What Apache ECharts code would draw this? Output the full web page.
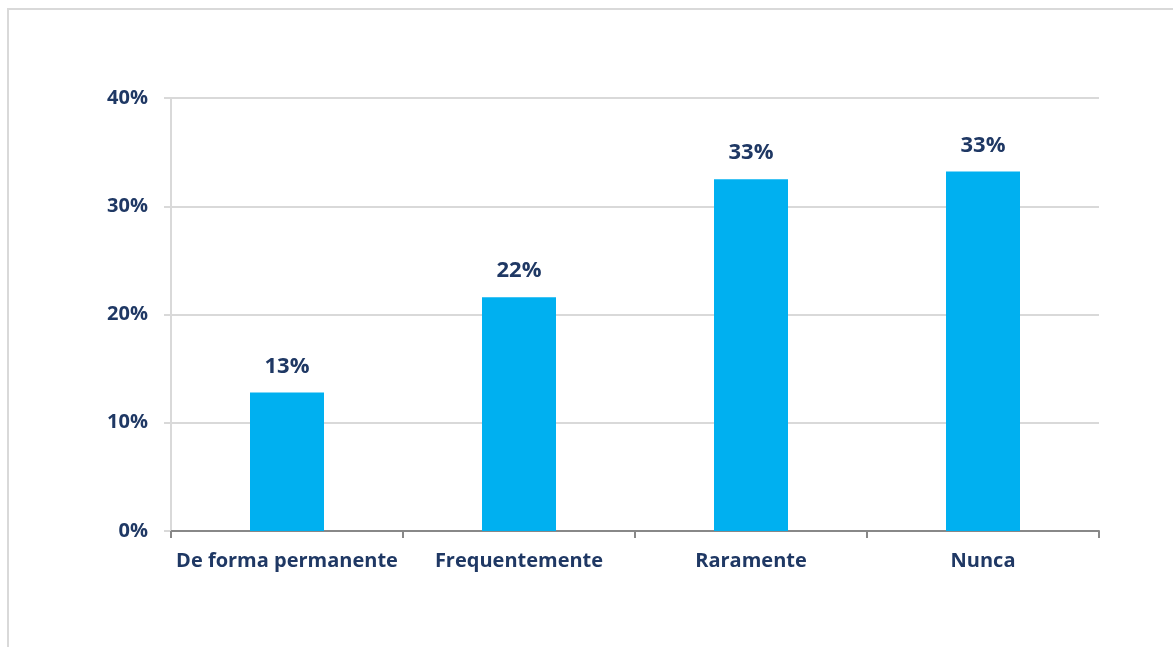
<!DOCTYPE html>
<html>
<head>
<meta charset="utf-8">
<script src="https://cdn.jsdelivr.net/npm/echarts@6/dist/echarts.min.js"></script>
<style>
  html, body { margin: 0; padding: 0; background: #ffffff; }
  #chart { width: 1173px; height: 647px; }
</style>
</head>
<body>
<div id="chart"></div>
<script>
// Frequency categories and their shares (%)
const categories = ['De forma permanente', 'Frequentemente', 'Raramente', 'Nunca'];
const shares = [12.8, 21.6, 32.5, 33.2];
const yTicks = [0, 10, 20, 30, 40];

const textColor = '#1f3864';
const fontFamily = '"Open Sans", Lato, "Noto Sans", sans-serif';

const chart = echarts.init(document.getElementById('chart'), null, { renderer: 'canvas' });

chart.setOption({
  animation: false,
  backgroundColor: '#ffffff',
  graphic: [{
    type: 'rect',
    shape: { x: 8, y: 9, width: 1200, height: 700 },
    style: { fill: 'none', stroke: '#d9d9d9', lineWidth: 2 },
    silent: true,
    z: -1
  }],
  grid: { left: 171, right: 74, top: 98, bottom: 116, containLabel: false },
  xAxis: {
    type: 'category',
    data: categories,
    axisLine: { show: true, lineStyle: { color: '#888888', width: 2 } },
    axisTick: { show: true, interval: 0, alignWithLabel: false, length: 7, lineStyle: { color: '#888888', width: 2 } },
    axisLabel: {
      interval: 0, hideOverlap: false,
      color: textColor, fontFamily: fontFamily, fontWeight: 'bold', fontSize: 20, margin: 20
    },
    splitLine: { show: false }
  },
  yAxis: {
    type: 'value',
    min: yTicks[0],
    max: yTicks[yTicks.length - 1],
    interval: 10,
    axisLine: { show: true, lineStyle: { color: '#d9d9d9', width: 2 } },
    axisTick: { show: true, length: 7, lineStyle: { color: '#d9d9d9', width: 2 } },
    axisLabel: {
      color: textColor, fontFamily: fontFamily, fontWeight: 'bold', fontSize: 20, margin: 23,
      padding: [3, 0, 0, 0],
      formatter: v => v + '%'
    },
    splitLine: { show: true, lineStyle: { color: '#d9d9d9', width: 2 } }
  },
  series: [{
    type: 'bar',
    data: shares,
    barWidth: 74,
    itemStyle: { color: '#00b0f0' },
    label: {
      show: true,
      position: 'top',
      distance: 15,
      color: textColor,
      fontFamily: fontFamily,
      fontWeight: 'bold',
      fontSize: 22,
      formatter: p => Math.round(p.value) + '%'
    }
  }]
});
</script>
</body>
</html>
